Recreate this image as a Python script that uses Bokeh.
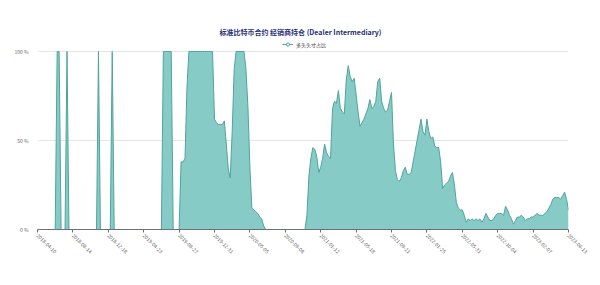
from bokeh.plotting import figure
from bokeh.models import Range1d, FixedTicker, Label, Legend, LegendItem, ColumnDataSource
from bokeh.embed import file_html
from bokeh.resources import INLINE
import pandas as pd

# ---- data (weekly, from 2018-04-10) ----
start_date = "2018-04-10"
long_ratio = [
    0, 0, 0, 0, 0, 0, 0, 0, 0, 0,
    100, 100, 0, 0, 0, 100, 0, 0, 0, 0,
    0, 0, 0, 0, 0, 0, 0, 0, 0, 0,
    0, 100, 0, 0, 0, 0, 0, 0, 100, 0,
    0, 0, 0, 0, 0, 0, 0, 0, 0, 0,
    0, 0, 0, 0, 0, 0, 0, 0, 0, 0,
    0, 0, 0, 0, 100, 100, 100, 100, 100, 0,
    0, 0, 0, 38, 38, 40, 80, 100, 100, 100,
    100, 100, 100, 100, 100, 100, 100, 100, 100, 100,
    62, 60, 59, 59, 59, 61, 48, 34, 29, 55,
    90, 100, 100, 100, 100, 100, 90, 69, 35, 12,
    11, 10, 9, 7, 6, 2, 0, 0, 0, 0,
    0, 0, 0, 0, 0, 0, 0, 0, 0, 0,
    0, 0, 0, 0, 0, 0, 0, 8, 30, 40,
    46, 45, 41, 32, 35, 40, 48, 43, 41, 40,
    68, 72, 71, 78, 68, 66, 65, 84, 92, 86,
    83, 85, 76, 66, 58, 60, 62, 65, 68, 73,
    68, 69, 72, 83, 85, 72, 68, 66, 67, 72,
    77, 48, 33, 28, 27, 29, 33, 35, 31, 31,
    32, 38, 44, 50, 56, 62, 55, 53, 62, 55,
    51, 52, 47, 46, 46, 38, 23, 25, 26, 27,
    30, 32, 25, 15, 12, 11, 11, 8, 4, 6,
    5, 6, 5, 6, 5, 6, 4, 6, 9, 7,
    5, 5, 6, 8, 9, 9, 9, 8, 13, 11,
    8, 6, 3, 5, 7, 7, 8, 7, 5, 6,
    6, 7, 7, 8, 9, 8, 8, 8, 9, 10,
    12, 14, 17, 18, 18, 18, 17, 19, 21, 17,
    11,
]
tick_labels = [
    "2018-04-10", "2018-08-14", "2018-12-18", "2019-04-23", "2019-08-27",
    "2019-12-31", "2020-05-05", "2020-09-08", "2021-01-12", "2021-05-18",
    "2021-09-21", "2022-01-25", "2022-05-31", "2022-10-04", "2023-02-07",
    "2023-06-13",
]
tick_step = 18
y_ticks = [0, 50, 100]
y_tick_labels = ["0 %", "50 %", "100 %"]
title_text = "标准比特币合约 经销商持仓 (Dealer Intermediary)"
series_name = "多头头寸占比"

dates = pd.date_range(start_date, periods=len(long_ratio), freq="7D")
src = ColumnDataSource(dict(x=list(range(len(long_ratio))), y=long_ratio,
                            date=[d.strftime("%Y-%m-%d") for d in dates]))

FILL = "#86cbc6"
LINE = "#4fa49d"
FONT = "Noto Sans CJK SC"

W, H = 600, 285
LEFT, RIGHT, BOTTOM = 37, 32, 56
FRAME_H = H - BOTTOM              # frame spans from the top of the canvas
PX_PER_PCT = 178 / 100            # 0 % .. 100 % spans 178 px
y_top = FRAME_H / PX_PER_PCT      # headroom above 100 % for title + legend

p = figure(width=W, height=H, output_backend="svg", toolbar_location=None,
           title=None, x_range=Range1d(0, len(long_ratio) - 1), y_range=Range1d(0, y_top),
           min_border_left=LEFT, min_border_right=RIGHT, min_border_top=0,
           min_border_bottom=BOTTOM)
p.outline_line_color = None
p.background_fill_color = "white"
p.border_fill_color = "white"

p.varea(x="x", y1=0, y2="y", source=src, fill_color=FILL, fill_alpha=1)
r_line = p.line(x="x", y="y", source=src, line_color=LINE, line_width=1)
# marker only used for the legend icon (placed outside the visible range)
r_pt = p.scatter(x=[-1000], y=[-1000], marker="circle", size=5, fill_color="white",
                 line_color=LINE, line_width=1)

# axes
xt = [i * tick_step for i in range(len(tick_labels))]
p.xaxis.ticker = FixedTicker(ticks=xt)
p.xaxis.major_label_overrides = {t: l for t, l in zip(xt, tick_labels)}
p.xaxis.major_label_orientation = -0.78
p.xaxis.major_label_text_font_size = "5px"
p.xaxis.major_label_text_color = "#666666"
p.xaxis.major_label_text_font = FONT
p.xaxis.axis_line_color = "#6e7079"
p.xaxis.major_tick_line_color = "#6e7079"
p.xaxis.major_tick_out = 3
p.xaxis.major_tick_in = 0
p.xaxis.minor_tick_line_color = None
p.xaxis.major_label_standoff = 2

p.yaxis.ticker = FixedTicker(ticks=y_ticks)
p.yaxis.major_label_overrides = {t: l for t, l in zip(y_ticks, y_tick_labels)}
p.yaxis.major_label_text_font_size = "5px"
p.yaxis.major_label_text_color = "#666666"
p.yaxis.major_label_text_font = FONT
p.yaxis.axis_line_color = None
p.yaxis.major_tick_line_color = None
p.yaxis.minor_tick_line_color = None
p.yaxis.major_label_standoff = 3

p.xgrid.visible = False
p.ygrid.grid_line_color = "#e6e6e6"
p.ygrid.grid_line_width = 1

# title placed in the headroom above the plot area (canvas y ~ 31 px)
title = Label(x=(300 - LEFT) / ((W - LEFT - RIGHT) / (len(long_ratio) - 1)),
              y=(FRAME_H - 31) / PX_PER_PCT, text=title_text,
              text_align="center", text_baseline="middle",
              text_font_size="7px", text_font_style="bold", text_color="#1f2f78",
              text_font=FONT)
p.add_layout(title)

# legend: bottom-left corner in frame pixels (canvas y ~ 48)
legend = Legend(items=[LegendItem(label=series_name, renderers=[r_line, r_pt])],
                location=(282 - LEFT, FRAME_H - 48), orientation="horizontal",
                padding=0, margin=0, spacing=0, label_standoff=3, glyph_width=11,
                glyph_height=8, label_height=8, label_text_font_size="5px",
                label_text_color="#333333", label_text_font=FONT,
                border_line_color=None, background_fill_alpha=0)
p.add_layout(legend)

open("out.html", "w").write(file_html(p, INLINE))
